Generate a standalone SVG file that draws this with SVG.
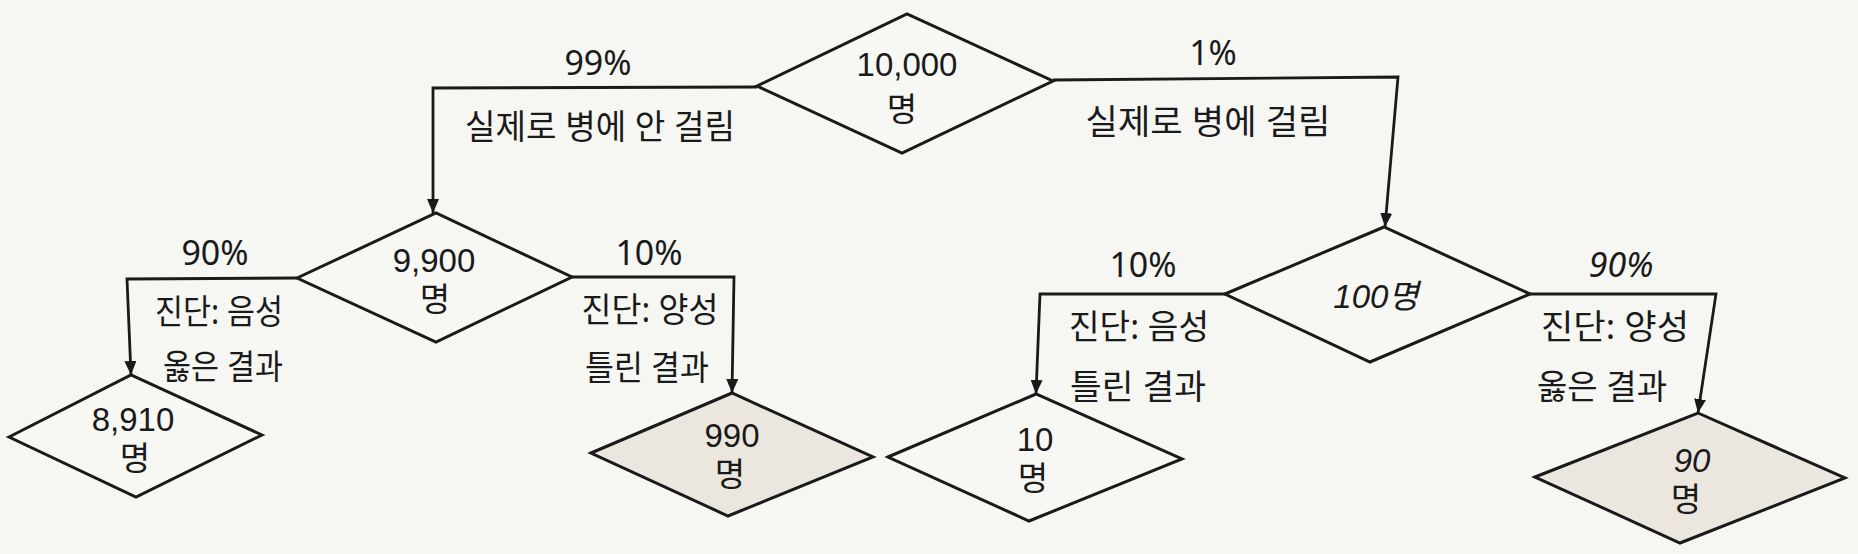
<svg xmlns="http://www.w3.org/2000/svg" width="1858" height="554" viewBox="0 0 1858 554">
  <defs>
    <marker id="arrow" markerUnits="userSpaceOnUse" markerWidth="14" markerHeight="12" refX="14" refY="6" orient="auto">
      <path d="M0,0 L14,6 L0,12 z" fill="#1a1a1a"/>
    </marker>
    <style>
      .bg { fill: #f6f6f3; }
      .node { fill: none; stroke: #1a1a1a; stroke-width: 3; stroke-linejoin: miter; }
      .node.white { fill: #f7f7f4; }
      .node.hl { fill: #ece7de; }
      .conn { fill: none; stroke: #1a1a1a; stroke-width: 2.8; marker-end: url(#arrow); }
      text { font-family: "Noto Sans", "Noto Sans CJK KR", sans-serif; fill: #1a1a1a; text-anchor: middle; }
      .pct { font-size: 34px; }
      .lbl { font-size: 34px; }
      .val { font-family: "Liberation Sans", "Noto Sans CJK KR", sans-serif; font-size: 33px; }
      .it { font-style: italic; }
      .up { font-style: normal; }
    </style>
  </defs>
  <rect class="bg" x="0" y="0" width="1858" height="554"/>

  <g id="connectors">
    <polyline class="conn" points="757,87 433,88 433,213"/>
    <polyline class="conn" points="1053,80 1398,77 1385,227"/>
    <polyline class="conn" points="297,278 127,279 131,375"/>
    <polyline class="conn" points="572,277 734,277 732,393"/>
    <polyline class="conn" points="1225,294 1040,294 1036,394"/>
    <polyline class="conn" points="1530,294 1716,294 1698,413"/>
    <text class="pct" x="598" y="75">99%</text>
    <text class="lbl" x="600" y="139" textLength="270" lengthAdjust="spacingAndGlyphs">실제로 병에 안 걸림</text>
    <text class="pct" x="1213" y="65">1%</text>
    <text class="lbl" x="1208" y="134" font-size="36" textLength="245" lengthAdjust="spacingAndGlyphs">실제로 병에 걸림</text>
    <text class="pct" x="215" y="265">90%</text>
    <text class="lbl" x="219" y="324" textLength="128" lengthAdjust="spacingAndGlyphs">진단: 음성</text>
    <text class="lbl" x="223" y="379" textLength="120" lengthAdjust="spacingAndGlyphs">옳은 결과</text>
    <text class="pct" x="649" y="265">10%</text>
    <text class="lbl" x="650" y="322" textLength="137" lengthAdjust="spacingAndGlyphs">진단: 양성</text>
    <text class="lbl" x="647" y="380" textLength="124" lengthAdjust="spacingAndGlyphs">틀린 결과</text>
    <text class="pct" x="1143" y="277">10%</text>
    <text class="lbl" x="1139" y="339" textLength="140" lengthAdjust="spacingAndGlyphs">진단: 음성</text>
    <text class="lbl" x="1138" y="399" textLength="136" lengthAdjust="spacingAndGlyphs">틀린 결과</text>
    <text class="pct it" x="1621" y="277">90%</text>
    <text class="lbl" x="1615" y="339" textLength="148" lengthAdjust="spacingAndGlyphs">진단: 양성</text>
    <text class="lbl" x="1602" y="399" textLength="130" lengthAdjust="spacingAndGlyphs">옳은 결과</text>
  </g>

  <g id="n-total">
    <polygon class="node white" points="757,86 907,14 1053,81 902,153"/>
    <text class="val" x="907" y="76" font-size="34">10,000<tspan x="902" dy="45">명</tspan></text>
  </g>
  <g id="n-healthy">
    <polygon class="node white" points="297,278 436,213 572,277 436,342"/>
    <text class="val" x="434" y="272">9,900<tspan x="435" dy="39">명</tspan></text>
  </g>
  <g id="n-sick">
    <polygon class="node white" points="1225,294 1384,227 1530,294 1370,362"/>
    <text class="val it" x="1376" y="308">100명</text>
  </g>
  <g id="n-true-neg">
    <polygon class="node white" points="9,437 131,375 262,435 136,497"/>
    <text class="val" x="133" y="431">8,910<tspan x="135" dy="39">명</tspan></text>
  </g>
  <g id="n-false-pos">
    <polygon class="node hl" points="591,453 732,393 873,457 728,516"/>
    <text class="val" x="732" y="447">990<tspan x="730" dy="39">명</tspan></text>
  </g>
  <g id="n-false-neg">
    <polygon class="node white" points="888,457 1036,394 1182,459 1029,521"/>
    <text class="val" x="1035" y="451">10<tspan x="1033" dy="39">명</tspan></text>
  </g>
  <g id="n-true-pos">
    <polygon class="node hl" points="1535,477 1698,413 1845,478 1680,543"/>
    <text class="val it" x="1692" y="472">90<tspan class="up" x="1686" dy="39">명</tspan></text>
  </g>
</svg>
